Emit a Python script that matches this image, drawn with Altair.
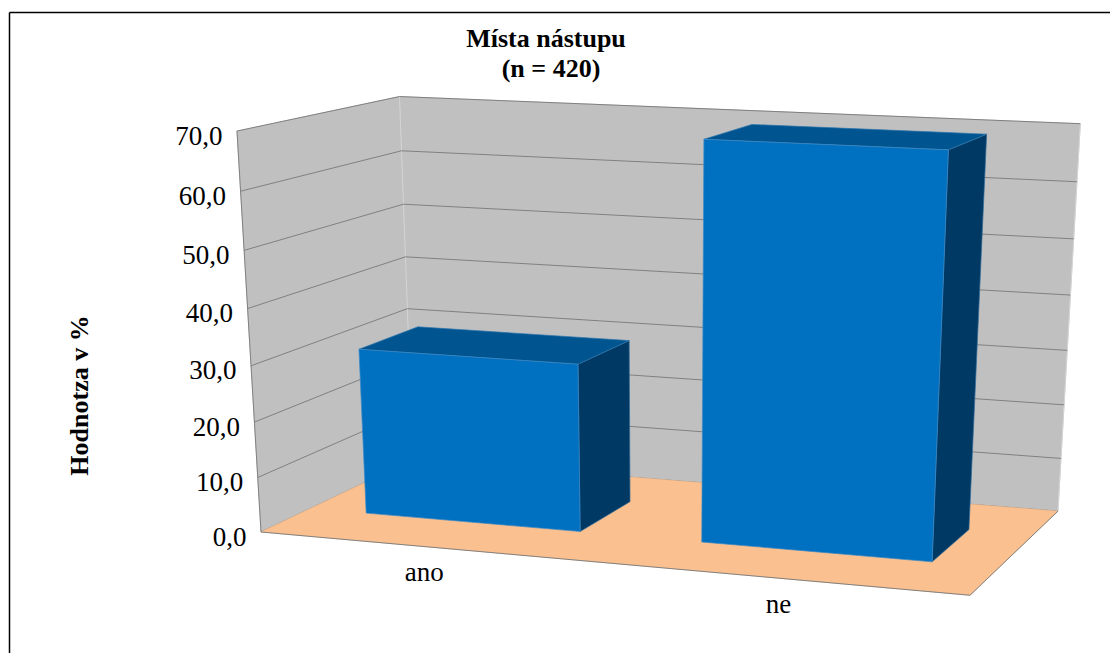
import altair as alt
import numpy as np
import pandas as pd

CATEGORIES = ["ano", "ne"]
VALUES = [30.3, 69.7]
TICKS = [0, 10, 20, 30, 40, 50, 60, 70]
TICK_LABELS = ["0,0", "10,0", "20,0", "30,0", "40,0", "50,0", "60,0", "70,0"]
TITLE = "Místa nástupu"
SUBTITLE = "(n = 420)"
Y_TITLE = "Hodnotza v %"
VMAX = 70.0
BAR_HALF = 0.1615
BAR_SHIFT = -0.0023
DEPTH = (0.305, 0.695)

# Camera of the 3D scene: (across, depth, height) -> page position
CAMERA = np.array([
    [637.7, 197.1, -37.3, 261.0],
    [19.5, -22.0, -408.3, 532.0],
    [-0.0735, 0.1093, -0.056, 1.0],
])

WALL, FLOOR, GRID = "#C0C0C0", "#FBC08F", "#808080"
FRONT, TOP, SIDE = "#0070C0", "#005490", "#003963"
SERIF = "Liberation Serif"
X_END = 1110


def proj(u, d, v):
    X = CAMERA @ np.array([u, d, v / VMAX, 1.0])
    return X[0] / X[2], X[1] / X[2]


def poly_rows(name, pts, fill, stroke):
    """Convex polygon as x / y / y2 rows for an area mark."""
    rows = []
    n = len(pts)
    for x in sorted({p[0] for p in pts}):
        ys = []
        for i in range(n):
            (x0, y0), (x1, y1) = pts[i], pts[(i + 1) % n]
            if min(x0, x1) <= x <= max(x0, x1):
                if x0 == x1:
                    ys += [y0, y1]
                else:
                    ys.append(y0 + (y1 - y0) * (x - x0) / (x1 - x0))
        rows.append(dict(name=name, x=x, y=min(ys), y2=max(ys), fill=fill, stroke=stroke))
    return rows


def quad(name, corners, fill, stroke):
    return poly_rows(name, [proj(*c) for c in corners], fill, stroke)


walls = pd.DataFrame(
    quad("back", [(0, 1, 0), (1, 1, 0), (1, 1, VMAX), (0, 1, VMAX)], WALL, WALL)
    + quad("left", [(0, 0, 0), (0, 1, 0), (0, 1, VMAX), (0, 0, VMAX)], WALL, WALL)
)
floor = pd.DataFrame(quad("floor", [(0, 0, 0), (1, 0, 0), (1, 1, 0), (0, 1, 0)], FLOOR, FLOOR))

bar_rows = []
for i, (cat, val) in enumerate(zip(CATEGORIES, VALUES)):
    c = (i + 0.5) / len(CATEGORIES) + BAR_SHIFT
    u0, u1 = c - BAR_HALF, c + BAR_HALF
    d0, d1 = DEPTH
    bar_rows += quad(cat + "-side", [(u1, d0, 0), (u1, d1, 0), (u1, d1, val), (u1, d0, val)], SIDE, "#2f6a99")
    bar_rows += quad(cat + "-top", [(u0, d0, val), (u1, d0, val), (u1, d1, val), (u0, d1, val)], TOP, "#2f77ad")
    bar_rows += quad(cat + "-front", [(u0, d0, 0), (u1, d0, 0), (u1, d0, val), (u0, d0, val)], FRONT, "#3d8ac6")
bars = pd.DataFrame(bar_rows)

grid_rows = []
for t in TICKS:
    for k, corner in enumerate([(0, 0, t), (0, 1, t), (1, 1, t)]):
        px, py = proj(*corner)
        grid_rows.append(dict(tick=t, k=k, x=px, y=py))
grid = pd.DataFrame(grid_rows)

edge_rows = []
for name, corners in {
    "front-left": [(0, 0, 0), (0, 0, VMAX)],
    "front": [(0, 0, 0), (1, 0, 0), (1, 1, 0)],
}.items():
    for k, corner in enumerate(corners):
        px, py = proj(*corner)
        edge_rows.append(dict(tick=name, k=k, x=px, y=py))
edges = pd.DataFrame(edge_rows)

light_rows = []
for name, corners in {
    "back-left": [(0, 1, 0), (0, 1, VMAX)],
    "back-right": [(1, 1, 0), (1, 1, VMAX)],
}.items():
    for k, corner in enumerate(corners):
        px, py = proj(*corner)
        light_rows.append(dict(tick=name, k=k, x=px, y=py))
light = pd.DataFrame(light_rows)

tick_text = pd.DataFrame(
    [dict(label=l, x=proj(0, 0, t)[0], y=proj(0, 0, t)[1]) for t, l in zip(TICKS, TICK_LABELS)]
)
cat_text = pd.DataFrame(
    [
        dict(
            label=cat,
            x=proj((i + 0.5) / len(CATEGORIES), 0, 0)[0],
            y=proj((i + 0.5) / len(CATEGORIES), 0, 0)[1],
        )
        for i, cat in enumerate(CATEGORIES)
    ]
)

X = alt.X("x:Q", scale=alt.Scale(domain=[8, X_END], nice=False, zero=False), axis=None)
Y = alt.Y("y:Q", scale=alt.Scale(domain=[653, 8], nice=False, zero=False), axis=None)
FILL = alt.Fill("fill:N", scale=None, legend=None)
STROKE = alt.Stroke("stroke:N", scale=None, legend=None)


def areas(df, width=0.7):
    return alt.Chart(df).mark_area(strokeWidth=width, interpolate="linear").encode(
        x=X, y=Y, y2="y2:Q", fill=FILL, stroke=STROKE, detail="name:N"
    )


def lines(df, color, width=1.0):
    return alt.Chart(df).mark_line(color=color, strokeWidth=width).encode(
        x=X, y=Y, detail="tick:N", order="k:Q"
    )


frame_top = alt.Chart(pd.DataFrame({"x": [9.5], "x2": [X_END], "y": [12.5]})).mark_rule(
    color="black", strokeWidth=1.5
).encode(x=X, x2="x2:Q", y=Y)
frame_left = alt.Chart(pd.DataFrame({"x": [9.5], "y": [12.5], "y2": [653]})).mark_rule(
    color="black", strokeWidth=1.5
).encode(x=X, y=Y, y2="y2:Q")

ticks = alt.Chart(tick_text).mark_text(
    font=SERIF, fontSize=27, align="right", baseline="alphabetic", dx=-14.5, dy=13.5, color="black"
).encode(x=X, y=Y, text="label:N")
cats = alt.Chart(cat_text).mark_text(
    font=SERIF, fontSize=27, align="center", baseline="alphabetic", dx=-4, dy=34, color="black"
).encode(x=X, y=Y, text="label:N")
y_title = alt.Chart(pd.DataFrame({"x": [79.5], "y": [395.5], "label": [Y_TITLE]})).mark_text(
    font=SERIF, fontSize=26, fontWeight="bold", angle=270, align="center", baseline="middle", color="black"
).encode(x=X, y=Y, text="label:N")
subtitle = alt.Chart(pd.DataFrame({"x": [551], "y": [77], "label": [SUBTITLE]})).mark_text(
    font=SERIF, fontSize=26, fontWeight="bold", align="center", baseline="alphabetic", color="black"
).encode(x=X, y=Y, text="label:N")

chart = (
    alt.layer(
        areas(walls), lines(light, "#D4D4D4"), lines(grid, GRID), areas(floor),
        lines(edges, GRID), areas(bars), frame_top, frame_left, ticks, cats, y_title, subtitle,
    )
    .properties(
        width=X_END - 8,
        height=645,
        padding=0,
        autosize=alt.AutoSizeParams(type="none"),
        background="white",
        title=alt.TitleParams(
            text=TITLE, font=SERIF, fontSize=26, fontWeight="bold", color="black",
            anchor="middle", dx=-13, dy=69, baseline="alphabetic",
        ),
    )
    .configure_view(stroke=None)
)

chart.save("out.html", embed_options={"renderer": "svg", "actions": False})
